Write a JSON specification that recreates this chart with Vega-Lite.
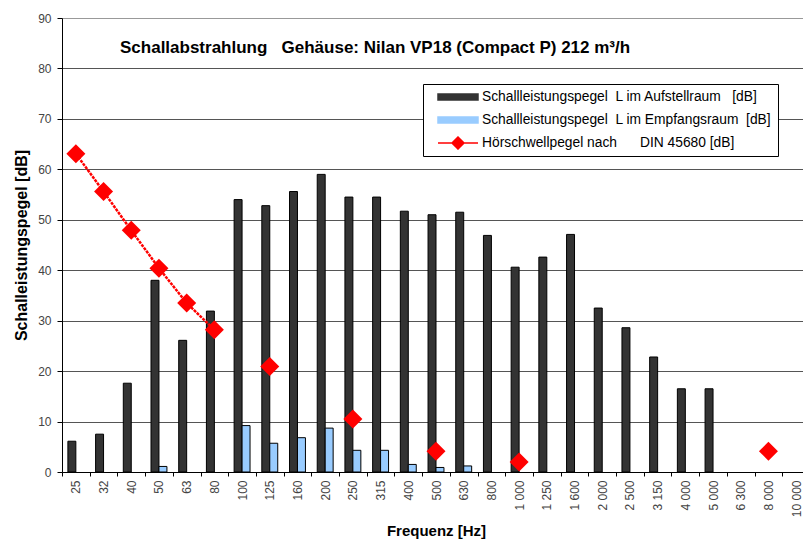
{
  "$schema": "https://vega.github.io/schema/vega-lite/v6.json",
  "width": 741,
  "height": 454,
  "autosize": {"type": "none"},
  "padding": {"left": 62, "top": 18, "right": 0, "bottom": 67},
  "background": "white",
  "config": {
    "font": "Liberation Sans",
    "view": {"stroke": null}
  },
  "title": {
    "text": "Schallabstrahlung\u00a0\u00a0\u00a0Gehäuse: Nilan VP18 (Compact P) 212 m³/h",
    "anchor": "start",
    "frame": "group",
    "orient": "top",
    "offset": -45,
    "dx": 58,
    "fontSize": 17,
    "fontWeight": "bold",
    "color": "#000000"
  },
  "datasets": {
    "rows": [
      {"i": 0, "freq": "25", "series": "A", "value": 6.1},
      {"i": 1, "freq": "32", "series": "A", "value": 7.5},
      {"i": 2, "freq": "40", "series": "A", "value": 17.6},
      {"i": 3, "freq": "50", "series": "A", "value": 38.0},
      {"i": 4, "freq": "63", "series": "A", "value": 26.1},
      {"i": 5, "freq": "80", "series": "A", "value": 31.9},
      {"i": 6, "freq": "100", "series": "A", "value": 54.0},
      {"i": 7, "freq": "125", "series": "A", "value": 52.8},
      {"i": 8, "freq": "160", "series": "A", "value": 55.6},
      {"i": 9, "freq": "200", "series": "A", "value": 59.0},
      {"i": 10, "freq": "250", "series": "A", "value": 54.5},
      {"i": 11, "freq": "315", "series": "A", "value": 54.5},
      {"i": 12, "freq": "400", "series": "A", "value": 51.7},
      {"i": 13, "freq": "500", "series": "A", "value": 51.0},
      {"i": 14, "freq": "630", "series": "A", "value": 51.5},
      {"i": 15, "freq": "800", "series": "A", "value": 46.9},
      {"i": 16, "freq": "1 000", "series": "A", "value": 40.6},
      {"i": 17, "freq": "1 250", "series": "A", "value": 42.6},
      {"i": 18, "freq": "1 600", "series": "A", "value": 47.1},
      {"i": 19, "freq": "2 000", "series": "A", "value": 32.5},
      {"i": 20, "freq": "2 500", "series": "A", "value": 28.6},
      {"i": 21, "freq": "3 150", "series": "A", "value": 22.8},
      {"i": 22, "freq": "4 000", "series": "A", "value": 16.5},
      {"i": 23, "freq": "5 000", "series": "A", "value": 16.5},
      {"i": 3, "freq": "50", "series": "B", "value": 1.1},
      {"i": 6, "freq": "100", "series": "B", "value": 9.2},
      {"i": 7, "freq": "125", "series": "B", "value": 5.7},
      {"i": 8, "freq": "160", "series": "B", "value": 6.8},
      {"i": 9, "freq": "200", "series": "B", "value": 8.7},
      {"i": 10, "freq": "250", "series": "B", "value": 4.3},
      {"i": 11, "freq": "315", "series": "B", "value": 4.3},
      {"i": 12, "freq": "400", "series": "B", "value": 1.5},
      {"i": 13, "freq": "500", "series": "B", "value": 0.9},
      {"i": 14, "freq": "630", "series": "B", "value": 1.2},
      {"i": 0, "freq": "25", "series": "H", "value": 63.1},
      {"i": 1, "freq": "32", "series": "H", "value": 55.6},
      {"i": 2, "freq": "40", "series": "H", "value": 47.9},
      {"i": 3, "freq": "50", "series": "H", "value": 40.4},
      {"i": 4, "freq": "63", "series": "H", "value": 33.5},
      {"i": 5, "freq": "80", "series": "H", "value": 28.2},
      {"i": 6, "freq": "100", "series": "H", "value": null},
      {"i": 7, "freq": "125", "series": "H", "value": 20.9},
      {"i": 8, "freq": "160", "series": "H", "value": null},
      {"i": 9, "freq": "200", "series": "H", "value": null},
      {"i": 10, "freq": "250", "series": "H", "value": 10.5},
      {"i": 11, "freq": "315", "series": "H", "value": null},
      {"i": 12, "freq": "400", "series": "H", "value": null},
      {"i": 13, "freq": "500", "series": "H", "value": 4.1},
      {"i": 14, "freq": "630", "series": "H", "value": null},
      {"i": 15, "freq": "800", "series": "H", "value": null},
      {"i": 16, "freq": "1 000", "series": "H", "value": 2.0},
      {"i": 17, "freq": "1 250", "series": "H", "value": null},
      {"i": 18, "freq": "1 600", "series": "H", "value": null},
      {"i": 19, "freq": "2 000", "series": "H", "value": null},
      {"i": 20, "freq": "2 500", "series": "H", "value": null},
      {"i": 21, "freq": "3 150", "series": "H", "value": null},
      {"i": 22, "freq": "4 000", "series": "H", "value": null},
      {"i": 23, "freq": "5 000", "series": "H", "value": null},
      {"i": 24, "freq": "6 300", "series": "H", "value": null},
      {"i": 25, "freq": "8 000", "series": "H", "value": 4.1},
      {"i": 26, "freq": "10 000", "series": "H", "value": null}
    ],
    "names": [
      {"series": "A", "name": "Schallleistungspegel\u00a0 L im Aufstellraum\u00a0\u00a0 [dB]"},
      {"series": "B", "name": "Schallleistungspegel\u00a0 L im Empfangsraum\u00a0 [dB]"},
      {"series": "H", "name": "Hörschwellpegel nach\u00a0\u00a0\u00a0\u00a0\u00a0 DIN 45680 [dB]"}
    ]
  },
  "data": {"name": "rows"},
  "transform": [
    {"lookup": "series", "from": {"data": {"name": "names"}, "key": "series", "fields": ["name"]}}
  ],
  "encoding": {
    "x": {
      "field": "freq",
      "type": "nominal",
      "scale": {
        "domain": ["25","32","40","50","63","80","100","125","160","200","250","315","400","500","630","800","1 000","1 250","1 600","2 000","2 500","3 150","4 000","5 000","6 300","8 000","10 000"],
        "paddingInner": 0,
        "paddingOuter": 0,
        "range": [0, 748]
      },
      "axis": {
        "title": "Frequenz [Hz]",
        "titleFontSize": 15,
        "titleFontWeight": "bold",
        "titleColor": "#000000",
        "titlePadding": 7,
        "labelAngle": -90,
        "labelAlign": "right",
        "labelBaseline": "middle",
        "labelFontSize": 12,
        "labelColor": "#444444",
        "labelPadding": 4,
        "tickBand": "extent",
        "tickSize": 4,
        "tickColor": "#000000",
        "domainColor": "#000000",
        "grid": false
      }
    },
    "y": {
      "field": "value",
      "type": "quantitative",
      "scale": {"domain": [0, 90], "nice": false},
      "axis": {
        "title": "Schalleistungspegel [dB]",
        "titleFontSize": 16,
        "titleFontWeight": "bold",
        "titleColor": "#000000",
        "titlePadding": 8,
        "values": [0, 10, 20, 30, 40, 50, 60, 70, 80, 90],
        "labelFontSize": 12,
        "labelColor": "#444444",
        "labelPadding": 6,
        "tickSize": 5,
        "tickColor": "#000000",
        "domainColor": "#000000",
        "grid": true,
        "gridColor": {"condition": {"test": "datum.value === 90", "value": "#999999"}, "value": "#555555"}
      }
    },
    "color": {
      "field": "name",
      "type": "nominal",
      "scale": {
        "domain": [
          "Schallleistungspegel\u00a0 L im Aufstellraum\u00a0\u00a0 [dB]",
          "Schallleistungspegel\u00a0 L im Empfangsraum\u00a0 [dB]",
          "Hörschwellpegel nach\u00a0\u00a0\u00a0\u00a0\u00a0 DIN 45680 [dB]"
        ],
        "range": ["#333333", "#99ccff", "#ff0000"]
      },
      "legend": {
        "title": null,
        "orient": "none",
        "legendX": 361,
        "legendY": 66,
        "direction": "vertical",
        "padding": 6,
        "strokeColor": "#000000",
        "fillColor": "#ffffff",
        "labelFontSize": 13.8,
        "labelColor": "#000000",
        "labelLimit": 400,
        "labelExpr": "datum.label + '\u00a0\u00a0\u00a0'",
        "symbolSize": 1600,
        "clipHeight": 14,
        "rowPadding": 9,
        "labelOffset": 3,
        "symbolOffset": 8,
        "encode": {
          "symbols": {
            "update": {
              "shape": {"signal": "slice(datum.value, 0, 1) === 'H' ? 'M-1,0H1M0,-0.3L0.3,0L0,0.3L-0.3,0Z' : 'M-1,-0.15H1V0.15H-1Z'"},
              "fill": {"signal": "scale('color', datum.value)"},
              "stroke": {"signal": "slice(datum.value, 0, 1) === 'H' ? '#ff0000' : '#000000'"},
              "strokeWidth": {"value": 1.5},
              "opacity": {"value": 1}
            }
          }
        }
      }
    }
  },
  "layer": [
    {
      "transform": [{"filter": {"field": "series", "oneOf": ["A", "B"]}}],
      "mark": {"type": "bar", "stroke": "#000000", "strokeWidth": 1},
      "encoding": {
        "xOffset": {
          "field": "series",
          "scale": {"domain": ["A", "B"], "paddingInner": 0, "paddingOuter": 0.74}
        }
      }
    },
    {
      "transform": [{"filter": {"field": "series", "equal": "H"}}],
      "mark": {"type": "line", "strokeWidth": 2.5, "strokeDash": [3, 1], "invalid": "break-paths-show-domains"},
      "encoding": {"order": {"field": "i", "type": "quantitative"}}
    },
    {
      "transform": [{"filter": {"field": "series", "equal": "H"}}, {"filter": "isValid(datum.value)"}],
      "mark": {"type": "point", "shape": "diamond", "filled": true, "size": 361, "opacity": 1}
    }
  ]
}
